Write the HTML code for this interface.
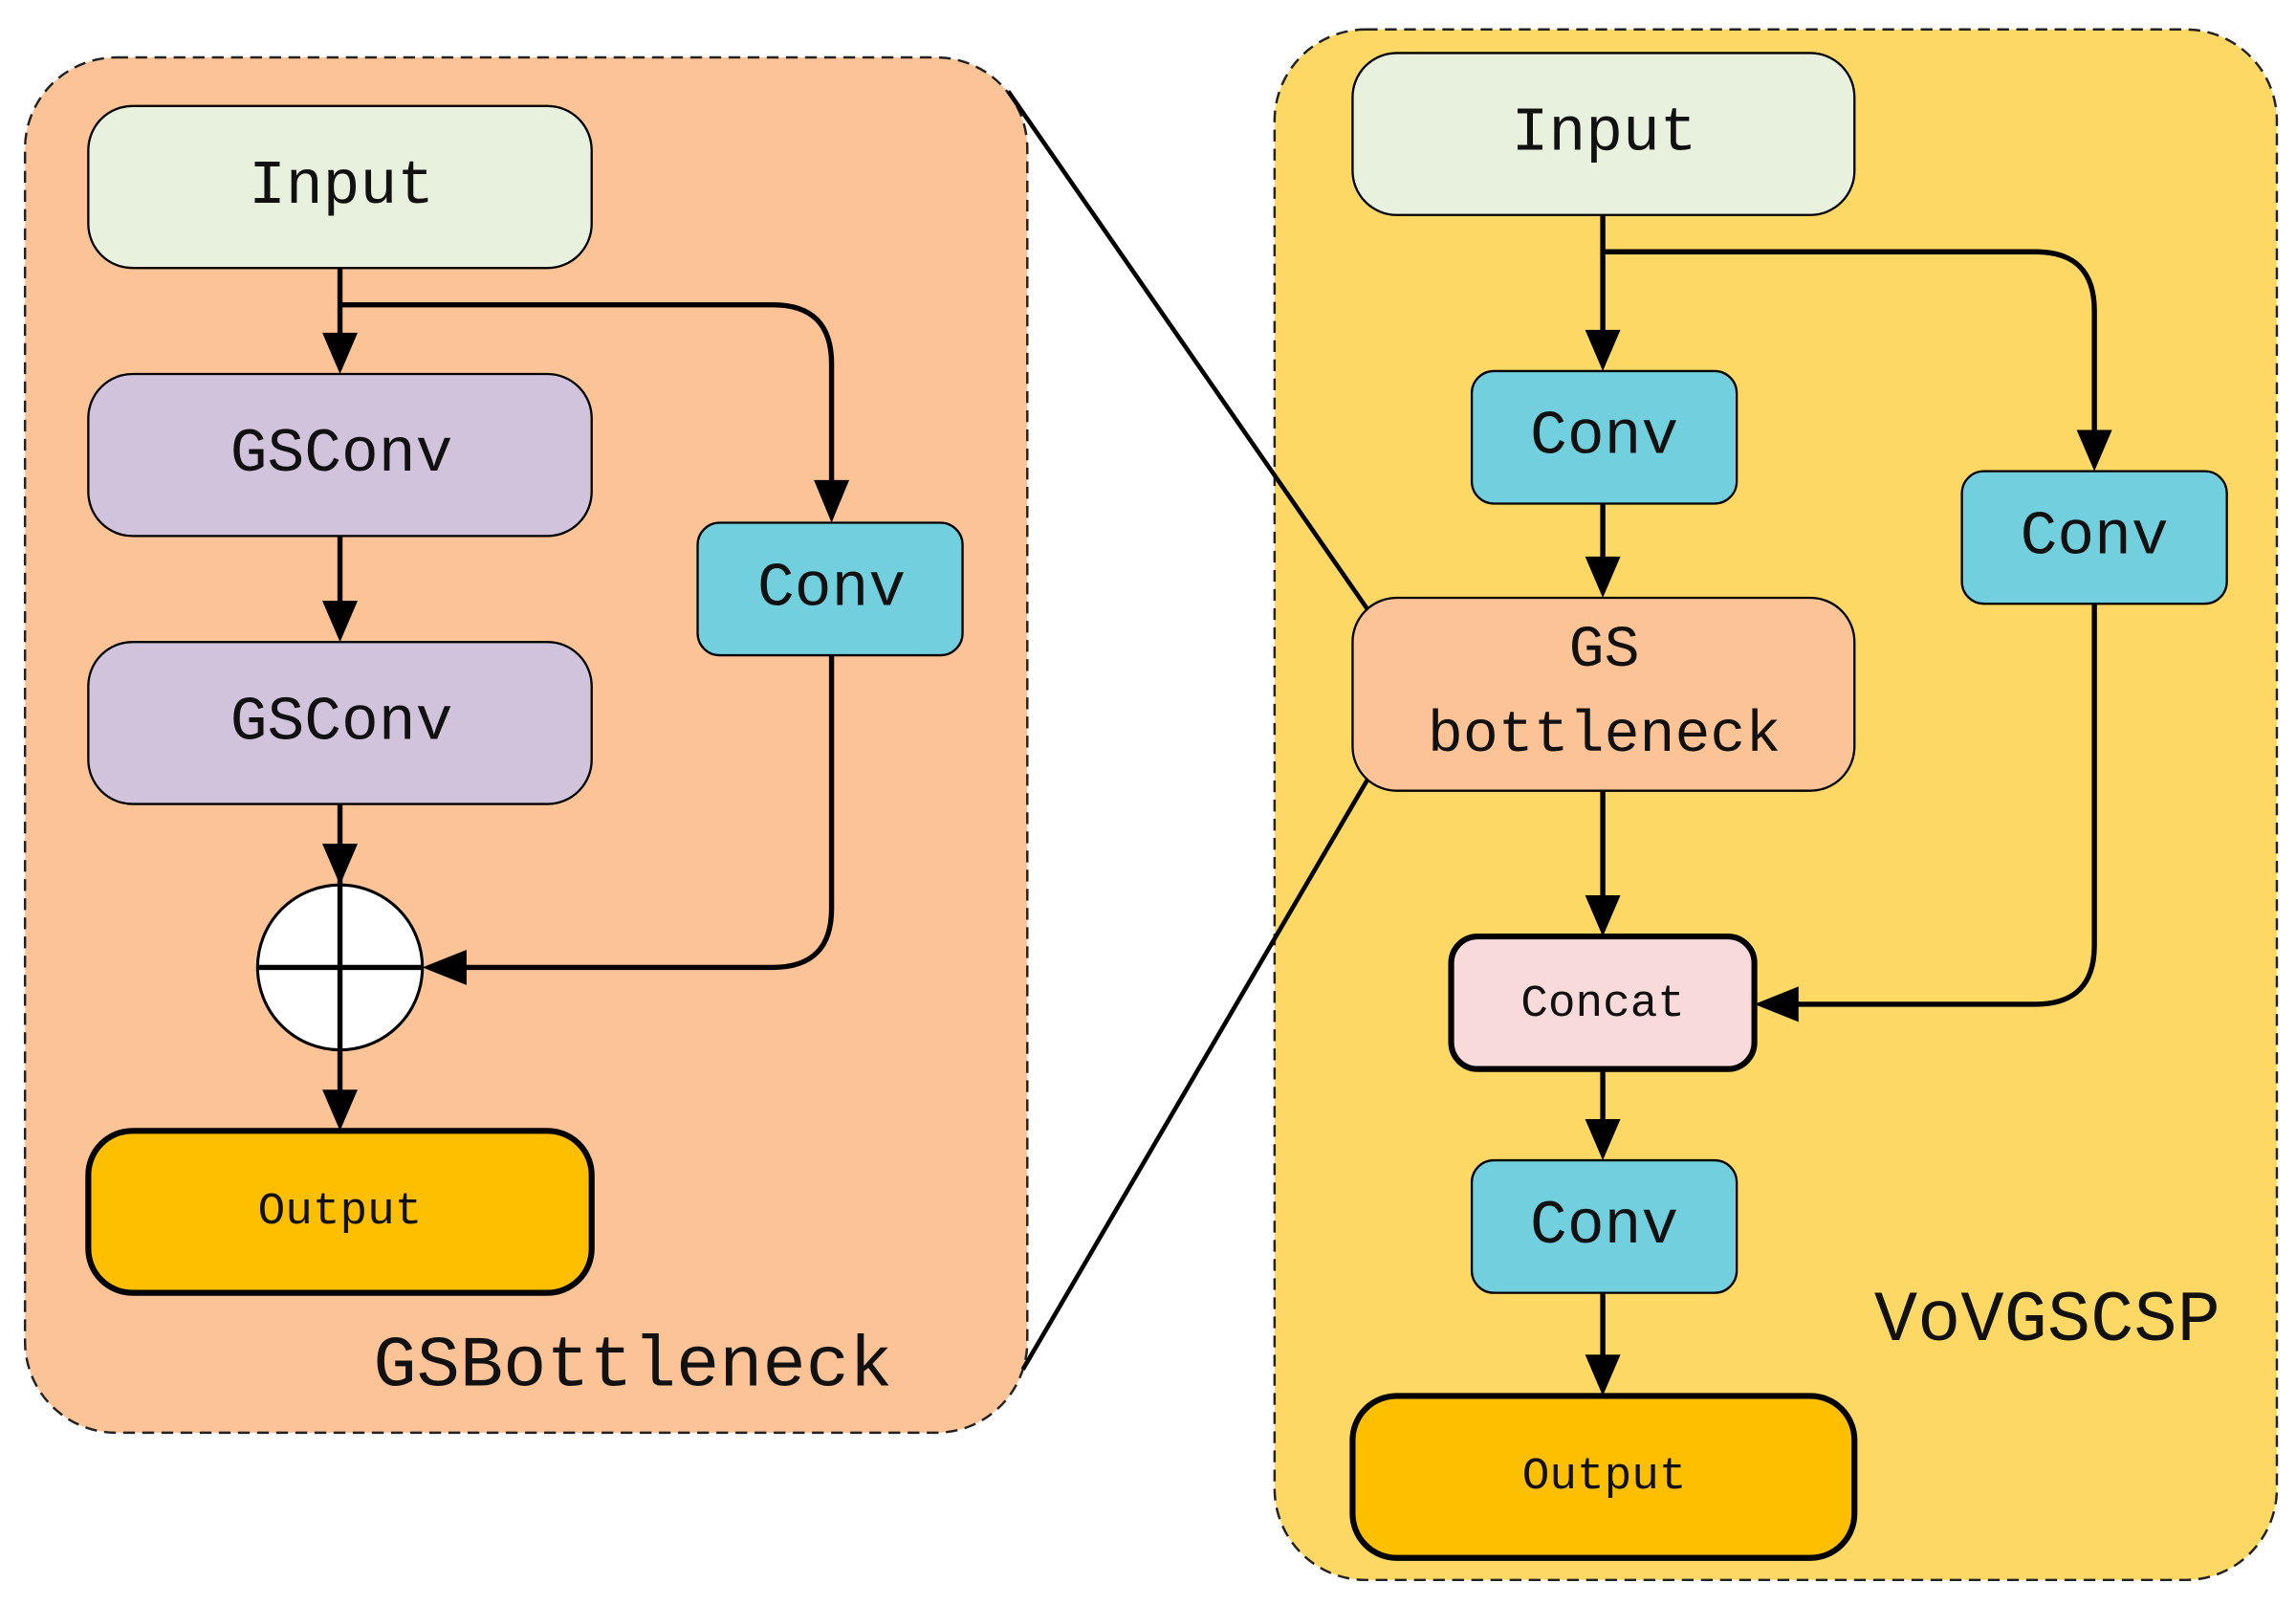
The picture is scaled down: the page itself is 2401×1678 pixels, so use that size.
<!DOCTYPE html>
<html><head><meta charset="utf-8"><style>
html,body{margin:0;padding:0;background:#fff;}
svg{display:block;}
text{font-family:"Liberation Mono","DejaVu Sans Mono",monospace;fill:#111;text-anchor:middle;dominant-baseline:central;}
</style></head><body>
<svg width="2401" height="1678" viewBox="0 0 1560 1090" preserveAspectRatio="none" xmlns="http://www.w3.org/2000/svg">
<rect x="17" y="39" width="681" height="934" rx="62" fill="#FCC397" stroke="#222" stroke-width="1.6" stroke-dasharray="8,5"/>
<rect x="866" y="20" width="681" height="1053" rx="62" fill="#FDD865" stroke="#222" stroke-width="1.6" stroke-dasharray="8,5"/>
<line x1="685" y1="62" x2="930" y2="415" stroke="#000" stroke-width="3"/>
<line x1="930" y1="528" x2="695" y2="930" stroke="#000" stroke-width="3"/>

<g stroke="#000" stroke-width="1.5">
<rect x="60" y="72" width="342" height="110" rx="30" fill="#E8F0DE"/>
<rect x="60" y="254" width="342" height="110" rx="30" fill="#D2C3DD"/>
<rect x="60" y="436" width="342" height="110" rx="30" fill="#D2C3DD"/>
<rect x="474" y="355" width="180" height="90" rx="15" fill="#72CFDE"/>
<rect x="919" y="36" width="341" height="110" rx="30" fill="#E8F0DE"/>
<rect x="1000" y="252" width="180" height="90" rx="15" fill="#72CFDE"/>
<rect x="1333" y="320" width="180" height="90" rx="15" fill="#72CFDE"/>
<rect x="919" y="406" width="341" height="131" rx="30" fill="#FCC397"/>
<rect x="1000" y="788" width="180" height="90" rx="15" fill="#72CFDE"/>
</g>
<g stroke="#000" stroke-width="4">
<rect x="60" y="768" width="342" height="110" rx="30" fill="#FDBF00"/>
<rect x="919" y="948" width="341" height="110" rx="30" fill="#FDBF00"/>
<rect x="986" y="636" width="206" height="90" rx="18" fill="#F9DADA"/>
<circle cx="231" cy="657" r="56" fill="#fff" stroke-width="2"/>
</g>

<g stroke="#000" stroke-width="3.5" fill="none">
<path d="M231 182 V230"/>
<path d="M231 207 H525 Q565 207 565 247 V330"/>
<path d="M231 364 V412"/>
<path d="M231 546 V577"/>
<path d="M231 590 V744"/>
<path d="M175 657 H287"/>
<path d="M565 445 V617 Q565 657 525 657 H315"/>
<path d="M1089 146 V228"/>
<path d="M1089 171 H1383 Q1423 171 1423 211 V296"/>
<path d="M1089 342 V382"/>
<path d="M1089 537 V612"/>
<path d="M1423 410 V642 Q1423 682 1383 682 H1218"/>
<path d="M1089 726 V764"/>
<path d="M1089 878 V924"/>
</g>
<g fill="#000">
<polygon points="219,226 243,226 231,254"/>
<polygon points="553,326 577,326 565,355"/>
<polygon points="219,408 243,408 231,436"/>
<polygon points="219,573 243,573 231,601"/>
<polygon points="219,740 243,740 231,768"/>
<polygon points="317,645 317,669 287,657"/>
<polygon points="1077,224 1101,224 1089,252"/>
<polygon points="1411,292 1435,292 1423,320"/>
<polygon points="1077,378 1101,378 1089,406"/>
<polygon points="1077,608 1101,608 1089,636"/>
<polygon points="1222,670 1222,694 1192,682"/>
<polygon points="1077,760 1101,760 1089,788"/>
<polygon points="1077,920 1101,920 1089,948"/>
</g>

<text x="232" y="127" font-size="42">Input</text>
<text x="232" y="309" font-size="42">GSConv</text>
<text x="232" y="491" font-size="42">GSConv</text>
<text x="565" y="400" font-size="42">Conv</text>
<text x="231" y="823" font-size="31">Output</text>
<text x="430" y="928" font-size="49">GSBottleneck</text>
<text x="1090" y="91" font-size="42">Input</text>
<text x="1090" y="297" font-size="42">Conv</text>
<text x="1423" y="365" font-size="42">Conv</text>
<text x="1090" y="442" font-size="40">GS</text>
<text x="1090" y="500" font-size="40">bottleneck</text>
<text x="1089" y="682" font-size="31">Concat</text>
<text x="1090" y="833" font-size="42">Conv</text>
<text x="1090" y="1003" font-size="31">Output</text>
<text x="1391" y="897" font-size="49">VoVGSCSP</text>
</svg>
</body></html>
